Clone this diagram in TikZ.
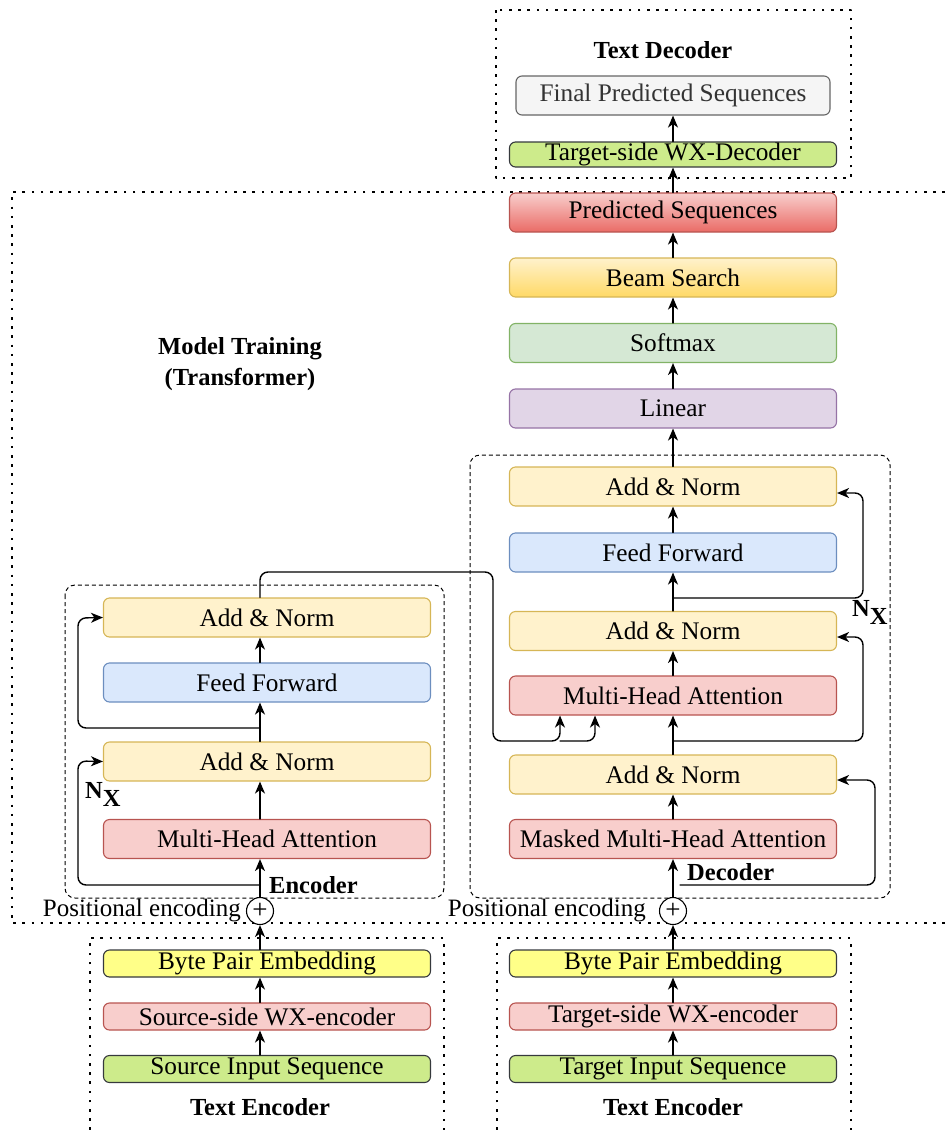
\documentclass[tikz,border=0pt]{standalone}
\usepackage{fontspec}
\setmainfont{Liberation Serif}
\usetikzlibrary{arrows.meta}

\definecolor{anFill}{HTML}{FFF2CC}
\definecolor{anDraw}{HTML}{D6B656}
\definecolor{ffFill}{HTML}{DAE8FC}
\definecolor{ffDraw}{HTML}{6C8EBF}
\definecolor{mhFill}{HTML}{F8CECC}
\definecolor{mhDraw}{HTML}{B85450}
\definecolor{smFill}{HTML}{D5E8D4}
\definecolor{smDraw}{HTML}{82B366}
\definecolor{lnFill}{HTML}{E1D5E7}
\definecolor{lnDraw}{HTML}{9673A6}
\definecolor{psDark}{HTML}{EA6B66}
\definecolor{bsDark}{HTML}{FFD966}
\definecolor{grFill}{HTML}{F5F5F5}
\definecolor{grDraw}{HTML}{666666}
\definecolor{wxFill}{HTML}{CDEB8B}
\definecolor{wxDraw}{HTML}{36393D}
\definecolor{bpFill}{HTML}{FFFF88}

\begin{document}
\begin{tikzpicture}[x=1pt, y=-1pt, >={Stealth[length=12pt,width=10pt,inset=3.5pt]},
  line cap=round, line join=round,
  blk/.style={draw, rounded corners=6pt, line width=1.1pt, minimum width=327pt,
    minimum height=39pt, inner sep=0pt, font=\fontsize{25.3}{29}\selectfont},
  addnorm/.style={blk, fill=anFill, draw=anDraw},
  feedfwd/.style={blk, fill=ffFill, draw=ffDraw},
  attn/.style={blk, fill=mhFill, draw=mhDraw},
  wxbox/.style={blk, fill=wxFill, draw=wxDraw},
  lbl/.style={font=\fontsize{24.5}{28}\selectfont\bfseries},
  txt/.style={font=\fontsize{25}{28}\selectfont},
  conn/.style={->, line width=1.4pt},
  skip/.style={conn, rounded corners=8pt},
  dots/.style={line width=2.6pt, line cap=butt, dash pattern=on 2.6pt off 6.6pt},
  frame/.style={line width=1pt, line cap=butt, dash pattern=on 4pt off 3pt, rounded corners=10pt},
  plus/.style={circle, draw, line width=1.1pt, minimum size=27pt, inner sep=0pt,
    fill=white, font=\fontsize{27}{27}\selectfont}]
  \useasboundingbox (0,0) rectangle (945,1130);

  % Frames
  \draw[dots] (496,10) rectangle (851,178);
  \draw[dots] (945,192) -- (12,192) -- (12,923) -- (945,923);
  \draw[dots] (90,1130) -- (90,938) -- (444,938) -- (444,1130);
  \draw[dots] (497,1130) -- (497,938) -- (851,938) -- (851,1130);
  \draw[frame] (65,585) rectangle (444,898);
  \draw[frame] (470,455) rectangle (890,898);

  % Text decoder
  \node[lbl] (tdTitle) at (663,50) {Text Decoder};
  \node[blk, fill=grFill, draw=grDraw, text=black!80, minimum width=314pt] (final) at (673,95.5) {Final Predicted Sequences};
  \node[wxbox, minimum height=25pt] (wxdec) at (673,154.5) {Target-side WX-Decoder};

  % Output head
  \node[blk, top color=mhFill, bottom color=psDark, draw=mhDraw] (pred) at (673,212.5) {Predicted Sequences};
  \node[blk, top color=anFill, bottom color=bsDark, draw=anDraw] (beam) at (673,277.5) {Beam Search};
  \node[blk, fill=smFill, draw=smDraw] (soft) at (673,343) {Softmax};
  \node[blk, fill=lnFill, draw=lnDraw] (lin) at (673,408.5) {Linear};
  \node[lbl, align=center] (mtTitle) at (240,364) {Model Training\\[3pt](Transformer)};

  % Decoder stack
  \node[addnorm] (dAN3) at (673,486.5) {Add \& Norm};
  \node[feedfwd] (dFF) at (673,552.5) {Feed Forward};
  \node[addnorm] (dAN2) at (673,631) {Add \& Norm};
  \node[attn] (dMHA) at (673,695.5) {Multi-Head Attention};
  \node[addnorm] (dAN1) at (673,774.5) {Add \& Norm};
  \node[attn] (dMMHA) at (673,839) {Masked Multi-Head Attention};
  \node[lbl, anchor=west, inner sep=0pt] (decLbl) at (687,872) {Decoder};
  \node[lbl, anchor=north west, inner sep=0pt] (dN) at (852,600) {N\raisebox{-8pt}{X}};
  \node[plus] (plusD) at (673,911) {+};
  \node[txt, anchor=east, inner sep=0pt] (peD) at (646,911) {Positional encoding};

  % Encoder stack
  \node[addnorm] (eAN2) at (267,617.5) {Add \& Norm};
  \node[feedfwd] (eFF) at (267,682.5) {Feed Forward};
  \node[addnorm] (eAN1) at (267,761.5) {Add \& Norm};
  \node[attn] (eMHA) at (267,839) {Multi-Head Attention};
  \node[lbl, anchor=west, inner sep=0pt] (encLbl) at (269,885) {Encoder};
  \node[lbl, anchor=north west, inner sep=0pt] (eN) at (85,782) {N\raisebox{-8pt}{X}};
  \node[plus] (plusE) at (260,911) {+};
  \node[txt, anchor=east, inner sep=0pt] (peE) at (241,911) {Positional encoding};

  % Text encoders
  \node[blk, fill=bpFill, draw=wxDraw, minimum height=27pt] (bpeL) at (267,963.5) {Byte Pair Embedding};
  \node[attn, minimum height=27pt] (wxL) at (267,1016.5) {Source-side WX-encoder};
  \node[wxbox, minimum height=27pt] (srcL) at (267,1069) {Source Input Sequence};
  \node[lbl] (teL) at (260,1107) {Text Encoder};
  \node[blk, fill=bpFill, draw=wxDraw, minimum height=27pt] (bpeR) at (673,963.5) {Byte Pair Embedding};
  \node[attn, minimum height=27pt] (wxR) at (673,1016.5) {Target-side WX-encoder};
  \node[wxbox, minimum height=27pt] (srcR) at (673,1069) {Target Input Sequence};
  \node[lbl] (teR) at (673,1107) {Text Encoder};

  % Bottom arrows
  \draw[conn] (srcL.north -| plusE) -- (wxL.south -| plusE);
  \draw[conn] (wxL.north -| plusE) -- (bpeL.south -| plusE);
  \draw[conn] (bpeL.north -| plusE) -- (plusE.south);
  \draw[conn] (srcR.north) -- (wxR.south);
  \draw[conn] (wxR.north) -- (bpeR.south);
  \draw[conn] (bpeR.north) -- (plusD.south);

  % Encoder arrows
  \draw[conn] (plusE.north) -- (eMHA.south -| plusE);
  \draw[conn] (eMHA.north -| plusE) -- (eAN1.south -| plusE);
  \draw[conn] (eAN1.north -| plusE) -- (eFF.south -| plusE);
  \draw[conn] (eFF.north -| plusE) -- (eAN2.south -| plusE);
  \coordinate (er1) at (260,885);
  \coordinate (er2) at (260,728);
  \draw[skip] (er1) -- (78,885) -- (78,761) -- (eAN1.west);
  \draw[skip] (er2) -- (78,728) -- (78,618) -- (eAN2.west);

  % Encoder output into decoder attention
  \coordinate (kv1) at (560,741);
  \coordinate (kv2) at (595,741);
  \draw[skip] (eAN2.north -| plusE) -- (260,572) -- (493,572) -- (493,741) -- (kv1) -- (kv1 |- dMHA.south);
  \draw[skip] (kv1) -- (kv2) -- (kv2 |- dMHA.south);

  % Decoder arrows
  \draw[conn] (plusD.north) -- (dMMHA.south);
  \draw[conn] (dMMHA.north) -- (dAN1.south);
  \draw[conn] (dAN1.north) -- (dMHA.south);
  \draw[conn] (dMHA.north) -- (dAN2.south);
  \draw[conn] (dAN2.north) -- (dFF.south);
  \draw[conn] (dFF.north) -- (dAN3.south);
  \coordinate (dr1) at (680,885);
  \coordinate (dr2) at (673,741);
  \coordinate (dr3) at (673,598);
  \draw[skip] (dr1) -- (875,885) -- (875,780) -- ([yshift=-5.5pt]dAN1.east);
  \draw[skip] (dr2) -- (863,741) -- (863,637) -- ([yshift=-6pt]dAN2.east);
  \draw[skip] (dr3) -- (863,598) -- (863,493) -- ([yshift=-6.5pt]dAN3.east);

  % Output arrows
  \draw[conn] (dAN3.north) -- (lin.south);
  \draw[conn] (lin.north) -- (soft.south);
  \draw[conn] (soft.north) -- (beam.south);
  \draw[conn] (beam.north) -- (pred.south);
  \draw[conn] (pred.north) -- (wxdec.south);
  \draw[conn] (wxdec.north) -- (final.south);
\end{tikzpicture}
\end{document}
